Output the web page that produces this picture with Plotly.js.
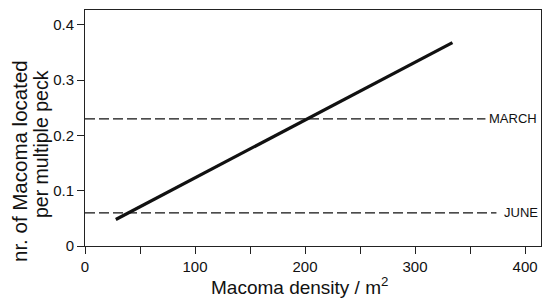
<!DOCTYPE html>
<html>
<head>
<meta charset="utf-8">
<script src="https://cdn.plot.ly/plotly-3.0.1.min.js"></script>
<style>html,body{margin:0;padding:0;background:#fff;}#chart{width:542px;height:300px;}</style>
</head>
<body>
<div id="chart"></div>
<script>
// Regression line endpoints
var densityX = [28, 334];
var locatedY = [0.048, 0.368];
// Reference levels
var levelNames = ["MARCH", "JUNE"];
var levelValues = [0.23, 0.06];
var levelXEnd = [364, 374];
var xTickVals = [0, 100, 200, 300, 400];
var yTickVals = [0, 0.1, 0.2, 0.3, 0.4];
var yTickText = ["0", "0.1", "0.2", "0.3", "0.4"];
var xTitle = "Macoma density / m<sup>2</sup>";
var yTitleLines = ["nr. of Macoma located", "per multiple peck"];

var FONT = "Liberation Sans, Arial, sans-serif";
var traces = [{
  x: densityX, y: locatedY, mode: "lines", type: "scatter",
  line: {color: "#111", width: 3.2}, hoverinfo: "skip"
}];
levelValues.forEach(function(v, i){
  traces.push({
    x: [0, levelXEnd[i]], y: [v, v], mode: "lines", type: "scatter",
    line: {color: "#111", width: 1.1, dash: "10px,4px"}, hoverinfo: "skip"
  });
});
var annotations = levelNames.map(function(n, i){
  return {x: levelXEnd[i], y: levelValues[i], xref: "x", yref: "y",
    text: n, showarrow: false, xanchor: "left", yanchor: "middle", xshift: i === 0 ? 2 : 6,
    font: {family: FONT, size: 13, color: "#111"}};
});
// axis titles placed as annotations (paper pixels via shifts)
annotations.push({xref: "paper", yref: "paper", x: 0, y: 0, xanchor: "center", yanchor: "middle",
  xshift: 299 - 85, yshift: -(286 - 246), text: xTitle, showarrow: false,
  font: {family: FONT, size: 19, color: "#111"}});
var yCenters = [[19, 161], [41, 144]];
yTitleLines.forEach(function(t, i){
  annotations.push({xref: "paper", yref: "paper", x: 0, y: 0, xanchor: "center", yanchor: "middle",
    xshift: yCenters[i][0] - 85, yshift: 246 - yCenters[i][1], textangle: -90, text: t,
    showarrow: false, font: {family: FONT, size: i === 0 ? 20.5 : 19.5, color: "#111"}});
});

var layout = {
  width: 542, height: 300,
  margin: {l: 85, r: 1, t: 10, b: 54},
  paper_bgcolor: "#fff", plot_bgcolor: "#fff",
  showlegend: false,
  font: {family: FONT, color: "#111"},
  xaxis: {
    range: [0, 414.5], tickvals: xTickVals, ticks: "outside", ticklen: 7, tickwidth: 1,
    tickcolor: "#222", showline: true, linecolor: "#222", linewidth: 1, mirror: true,
    showgrid: false, zeroline: false, tickfont: {size: 15},
    minor: {dtick: 50, ticks: "outside", ticklen: 7, tickcolor: "#222", showgrid: false}
  },
  yaxis: {
    range: [0, 0.427], tickvals: yTickVals, ticktext: yTickText, ticks: "outside",
    ticklen: 7, tickwidth: 1, tickcolor: "#222", showline: true, linecolor: "#222",
    linewidth: 1, mirror: true, showgrid: false, zeroline: false, tickfont: {size: 15}
  },
  annotations: annotations
};
Plotly.newPlot("chart", traces, layout, {displayModeBar: false, staticPlot: true});
</script>
</body>
</html>
